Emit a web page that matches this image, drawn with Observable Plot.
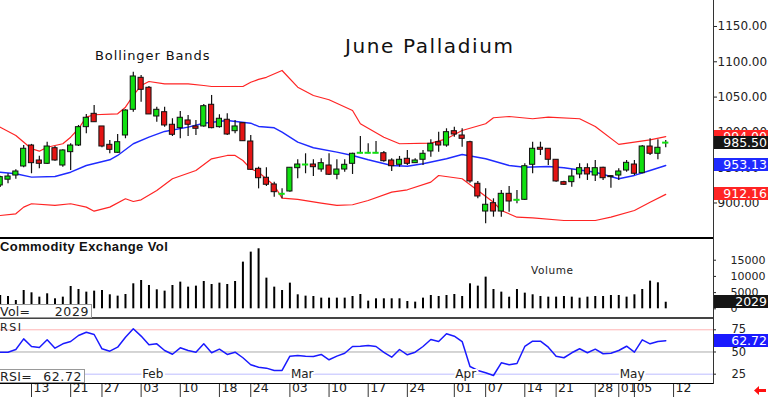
<!DOCTYPE html>
<html><head><meta charset="utf-8">
<script src="https://cdn.jsdelivr.net/npm/d3@7"></script>
<script src="https://cdn.jsdelivr.net/npm/@observablehq/plot@0.6"></script>
<style>
html,body{margin:0;padding:0;background:#fff;}
#chart{position:relative;width:768px;height:397px;overflow:hidden;font-family:"DejaVu Sans",sans-serif;color:#222;background:#fff;}
#chart svg{position:absolute;left:0;}
.lbl{position:absolute;white-space:nowrap;line-height:1;}
.box{position:absolute;color:#fff;font-size:12.5px;text-align:right;line-height:13px;height:13px;padding-right:1px;box-sizing:border-box;white-space:nowrap;}
.sep{position:absolute;}
.vbox{position:absolute;background:#fff;border:1px solid #999;border-left:none;box-sizing:border-box;font-size:12.5px;line-height:12px;white-space:nowrap;}
</style></head><body><div id="chart"></div><script>
// ---------- data (bar index 0 = Jan 13) ----------
const firstIndex = -4;
const opens = [924.8,933,938.9,951.7,
 981.4,960.2,955.5,977.6,953.1,972,981.4,1007.4,1026.3,1008.4,
 982.4,971.1,995.6,1032,1077.3,1063.2,1022.5,1028.6,1010.8,1006,
 1016.9,1008.4,1008.4,1039.1,1007.4,1017.9,1001.7,1013,987.1,948.4,
 935.7,926.2,913,916.3,949.3,954.5,954.5,947.4,953.1,940,
 947.4,955.5,971.1,971.1,971.1,970.5,960.2,954.1,962.6,956.4,
 961.2,973,986.1,981.4,1001.7,995.6,986.1,927.2,887.9,899.7,
 887.9,913,904.5,904.5,954.1,978.2,976.8,961.2,929.5,929.5,
 940.4,949.3,938.9,949.9,936.6,938.9,946,954.5,942.2,980,
 969.7,985.5];
const highs = [938,941.4,947,981.4,
 983,966.3,986.1,980,975.3,983.9,1009.8,1025.4,1038.1,1008.4,
 988.5,997,1032,1085.3,1080.6,1065,1035.7,1035.7,1019.3,1029.6,
 1023.9,1016.9,1039.5,1052.3,1025,1026.3,1016.9,1013,995.6,950.7,
 949.9,929.5,920.1,949.9,961.2,969.7,961.2,962.6,969.7,961.2,
 961.2,970.5,994.2,983.9,987.1,973,962.6,965.9,974.4,962.6,
 974.4,989.5,1000.3,1005.1,1007.4,1005.1,987.5,930.5,920.1,905.9,
 917.7,923.4,917.7,955.5,986.1,986.1,976.8,961.2,930.9,947,
 955.5,955.5,960.2,950.7,938.9,948.4,960.2,960.2,981.4,990.9,
 989.5,988.5];
const lows = [922,927.2,933.7,949.9,
 941.4,948.4,954.5,959.2,950.7,946,980,998,1014.4,978.2,
 969.7,970.5,991,1028.6,1042.8,1025.4,1014.4,1007.4,994.2,991,
 994.2,995.6,1007.4,1005.1,1006,995.6,998,987.5,946,920,
 923.4,908.2,905.9,915.3,934.3,941.4,937.5,943.6,938.9,932.9,
 943.6,940.4,969.7,969.7,969.7,957.8,944.6,950.7,953.1,956.4,
 953.1,964.9,972,979,993.2,979,928,905.9,870.5,879.9,
 879.9,887,898.9,903.5,941.4,967.3,953.1,929.5,924.8,922.4,
 934.3,931.9,930.5,931.9,920.9,931.9,943.6,938.9,941.4,967.3,
 961.2,978.2];
const closes = [936.6,937.5,944.6,976.8,
 956.4,955.5,980,960.2,974.4,981.4,1007.4,1020.7,1014.4,980,
 975.3,986.1,1031,1079.2,1060.3,1025.4,1032,1009.8,996.6,1020.7,
 1010.8,1005.1,1037.1,1006,1019.3,997,1008.4,987.5,947,935.1,
 925.8,915.3,913,949.9,954.5,954.5,950.7,956.4,940,947.4,
 954.1,969.7,971.1,971.1,971.1,959.2,952.1,961.2,955.5,960.2,
 969.7,983.9,981.4,1000.3,997,990.9,930.5,909.2,897.5,887.9,
 913,902.1,904.5,952.1,976.8,975.4,961.2,930.5,925.8,937.5,
 949.3,940.4,949.3,935.1,938,944.6,956.9,941.4,980,969.7,
 978.2,985.5];
const volumes = [4116,3807,2572,5660,
 4939,3601,4630,3087,3601,6894,5968,5145,5454,5660,
 4322,3910,4425,7717,8746,7203,5865,5454,7203,8232,
 6689,6997,8438,7512,7923,7512,8438,14406,17493,18522,
 9467,6689,5660,7923,4322,3910,3807,3293,3293,3293,
 3293,3807,4425,2367,3087,3087,3087,3087,2264,2058,
 3293,4116,3807,4116,4425,3807,7717,6997,9776,5968,
 5145,3601,5968,4836,4322,3807,3601,3601,3807,3601,
 3293,3601,3807,3807,4116,4116,3601,4322,5968,8541,
 8026,2029];
const rsiValues = [49.8,49.8,52.8,64.8,
 56.2,55.1,63.7,54.3,59.2,61.8,68.6,72.3,69.7,53.6,
 50.9,55.4,66.7,76.1,67.9,58.1,59.2,51.7,47.5,54.7,
 51.7,49.8,59.2,49.1,53.2,47.2,49.8,43.5,35.6,32.9,
 31.8,29.2,29.2,45.3,46.1,45.3,44.9,47.2,41.2,45.3,
 48.6,56.2,56.5,57.3,56.2,49.5,44.1,52.8,46.8,49.8,
 56.2,64.1,61.8,70.5,67.8,61.8,33.7,29.2,26.6,23.5,
 37.8,35.6,37.0,56.2,62.2,62.2,55.4,45.3,43.5,49.1,
 53.6,49.1,53.2,48.0,48.6,51.7,56.5,49.8,63.7,59.2,
 61.8,62.72];
const upperIdx = [-4,-2,0,1,2,4,5,6,7,8,11,12,13,14,15,17,20,22,23,27,28,29,30,32,34,36,38,41,42,45,47,51,53,55,58,59,61,64,66,70,72,75,77,79,81];
const upperVals = [1007.4,995.6,976.8,973.4,979,983.9,993.2,1005.1,1021.6,1025,1026.3,1035.7,1052.3,1066.4,1072.1,1068.8,1068.8,1066.4,1065,1065,1071,1075,1078,1087.7,1064,1052.3,1046.2,1031,1012.2,993.2,983.9,984.7,990.9,1002.7,1012.2,1020.7,1022.5,1019.3,1021.6,1019.3,1008.4,983,986.1,989.5,994];
const middleIdx = [-4,-2,0,3,5,7,10,11,13,15,17,20,22,25,28,29,31,32,34,36,39,41,43,46,48,50,53,55,58,61,63,66,68,72,75,77,79,81];
const middleVals = [943.6,941.4,936.6,937.5,943.6,953.1,961.2,967.3,983.9,993.2,1001.3,1007.4,1013,1016.9,1013,1008.4,1006.5,1000.3,986.1,978.2,972,967.3,961.2,953.1,952.1,955.5,962.6,968.7,962.6,953.1,950.7,951.7,949.9,943.6,934.3,939,946,953.13];
const lowerIdx = [-4,-2,-1,0,3,5,7,8,10,12,13,14,16,18,21,23,25,26,27,28,29,31,32,34,37,39,41,43,46,48,51,52,55,57,59,60,62,64,68,72,74,77,79,81];
const lowerVals = [882.3,884.7,894.1,898.9,896.5,898.9,894.1,888.4,894.1,906,902.1,904.5,917.7,934.3,946,962.6,967.3,967.3,960.2,948.4,943.6,924.8,906.8,905,899.7,896.5,897.5,903.5,915.3,918.7,929.5,938.9,934.3,917.7,901.1,889.4,879.9,879,875.2,875.2,879.9,889.4,901.1,912.16];
const tickIdx = [0,5,9,14,19,24,28,33,38,43,48,54,58,63,67,72,75,77,82];
const tickLabels = ["13","21","27","03","10","18","24","03","10","17","24","01","07","14","21","28","01","05","12"];
const monthIdx = [14,33,54,75];
const monthLabels = ["Feb","Mar","Apr","May"];
const priceTicks = [900,950,1000,1050,1100,1150];
const volTicks = [0,5000,10000,15000];
const rsiTicks = [25,50,75];
const priceFlags = [994.00, 985.50, 953.13, 912.16];
const lastVolume = 2029;
const lastRsi = 62.72;

// ---------- build ----------
const GREEN = "#10e010", RED = "#e41414", BAND = "#ff2424", MID = "#1f2bff";
const xDomain = [-3.96, 87.1];
const W = 768, MR = 55;
const chart = document.getElementById("chart");
const style = {background:"transparent", overflow:"visible", fontFamily:"DejaVu Sans, sans-serif", fontSize:"12px", color:"#222"};

const candles = opens.map((o,k)=>({i:firstIndex+k, o, h:highs[k], l:lows[k], c:closes[k]}));
const bodies = candles.filter(d=>d.o!==d.c);
const dojis = candles.filter(d=>d.o===d.c);
const pts = (idx, vals) => idx.map((i,k)=>({i, v:vals[k]}));
const vol = volumes.map((v,k)=>({i:firstIndex+k, v}));
const rsi = rsiValues.map((v,k)=>({i:firstIndex+k, v}));

function mount(svg, top){ svg.style.top = top+"px"; chart.appendChild(svg); return svg; }

const price = mount(Plot.plot({
  width:W, height:238, marginLeft:0, marginRight:MR, marginTop:0, marginBottom:0, style,
  x:{domain:xDomain, axis:null, label:null},
  y:{domain:[849.7,1186.8], axis:null, label:null},
  marks:[
    Plot.axisY(priceTicks, {anchor:"right", label:null, tickSize:3, tickPadding:1, tickFormat:d=>d.toFixed(2), fontSize:12}),
    Plot.line(pts(upperIdx,upperVals), {x:"i", y:"v", stroke:BAND, strokeWidth:1.2}),
    Plot.line(pts(lowerIdx,lowerVals), {x:"i", y:"v", stroke:BAND, strokeWidth:1.2}),
    Plot.line(pts(middleIdx,middleVals), {x:"i", y:"v", stroke:MID, strokeWidth:1.4}),
    Plot.ruleX(candles, {x:"i", y1:"l", y2:"h", stroke:"#111", strokeWidth:1.2}),
    Plot.rect(bodies, {x1:d=>d.i-0.33, x2:d=>d.i+0.33, y1:"o", y2:"c", fill:d=>d.c>d.o?GREEN:RED, stroke:"#111", strokeWidth:1}),
    Plot.ruleY(dojis, {y:"c", x1:d=>d.i-0.4, x2:d=>d.i+0.4, stroke:GREEN, strokeWidth:2})
  ]
}), 0);

const volume = mount(Plot.plot({
  width:W, height:81, marginLeft:0, marginRight:MR, marginTop:0, marginBottom:0, style,
  x:{domain:xDomain, axis:null, label:null},
  y:{domain:[-3300,21700], axis:null, label:null},
  marks:[
    Plot.axisY(volTicks, {anchor:"right", label:null, tickSize:2, tickPadding:15, tickFormat:d=>String(d), fontSize:11}),
    Plot.ruleX(vol, {x:"i", y1:0, y2:"v", stroke:"#000", strokeWidth:2})
  ]
}), 238);

const rsiPlot = mount(Plot.plot({
  width:W, height:78, marginLeft:0, marginRight:MR, marginTop:0, marginBottom:14, style,
  x:{domain:xDomain, axis:null, label:null},
  y:{domain:[14.5,86.6], axis:null, label:null},
  marks:[
    Plot.ruleY([75], {stroke:"#ffb4b4"}),
    Plot.ruleY([50], {stroke:"#aaaaaa"}),
    Plot.ruleY([25], {stroke:"#bcbcff"}),
    Plot.axisY(rsiTicks, {anchor:"right", label:null, tickSize:2, tickPadding:16, fontSize:11.5}),
    Plot.line(rsi, {x:"i", y:"v", stroke:"#1a1aff", strokeWidth:1.5}),
    Plot.axisX(tickIdx, {anchor:"bottom", label:null, tickSize:14, tickFormat:()=>"", stroke:"#333"}),
    Plot.text(tickIdx.map((i,k)=>({i, t:tickLabels[k]})), {x:"i", text:"t", frameAnchor:"bottom", dy:8.5, dx:2, textAnchor:"start", fontSize:12.5, fill:"#222"}),
    Plot.text(monthIdx.map((i,k)=>({i, t:monthLabels[k]})), {x:"i", text:"t", frameAnchor:"bottom", dy:-5.5, dx:1, textAnchor:"start", fontSize:12, fill:"#222", stroke:"white", strokeWidth:4})
  ]
}), 319);

// ---------- panel frames ----------
function line(l,t,w,h,c){ const d=document.createElement("div"); d.className="sep"; Object.assign(d.style,{left:l+"px",top:t+"px",width:w+"px",height:h+"px",background:c}); chart.appendChild(d); }
line(0,237,714,2,"#000");
line(0,317,714,2,"#444");
line(0,383,714,1,"#000");
line(713,0,1,384,"#333");

// ---------- text ----------
function label(txt, css){ const d=document.createElement("div"); d.className="lbl"; d.textContent=txt; Object.assign(d.style, css); chart.appendChild(d); return d; }
label("June Palladium", {left:"345px", top:"36px", fontSize:"20px", letterSpacing:"1.6px", color:"#111"});
label("Bollinger Bands", {left:"95px", top:"49px", fontSize:"13px", letterSpacing:"0.9px", color:"#111"});
label("Commodity Exchange Vol", {left:"0px", top:"240px", fontSize:"13px", letterSpacing:"0.4px", color:"#111", fontWeight:"bold", fontFamily:"'Liberation Sans', sans-serif"});
label("Volume", {left:"531px", top:"265px", fontSize:"10.5px", letterSpacing:"0.6px", color:"#222"});
label("RSI", {left:"0px", top:"322px", fontSize:"11px", letterSpacing:"1.5px", color:"#222"});

function flag(txt, yPix, bg){ const d=document.createElement("div"); d.className="box"; d.textContent=txt;
  Object.assign(d.style,{left:"714px", width:"54px", top:(yPix-6.5)+"px", background:bg}); chart.appendChild(d); }
const ys = price.scale("y");
const flagColors = [BAND, "#151515", MID, BAND];
priceFlags.forEach((v,k)=>flag(v.toFixed(2), ys.apply(v), flagColors[k]));
flag(String(lastVolume), 238 + volume.scale("y").apply(lastVolume), "#151515");
flag(lastRsi.toFixed(2), 319 + rsiPlot.scale("y").apply(lastRsi), "#1a1aff");

function vbox(name, val, top, width){ const d=document.createElement("div"); d.className="vbox";
  Object.assign(d.style,{left:"0px", top:top+"px", width:width+"px", height:"14px"});
  d.innerHTML = `<span style="position:absolute;left:0px;top:1px;letter-spacing:0.3px">${name}</span><span style="position:absolute;right:2px;top:1px;letter-spacing:0.6px">${val}</span>`;
  chart.appendChild(d); }
vbox("Vol=", String(lastVolume), 304, 92);
vbox("RSI=", lastRsi.toFixed(2), 369, 85);

// red arrow
const ns="http://www.w3.org/2000/svg";
const a=document.createElementNS(ns,"svg"); a.setAttribute("width","12"); a.setAttribute("height","9");
a.style.position="absolute"; a.style.left="754px"; a.style.top="386px";
const p=document.createElementNS(ns,"polygon"); p.setAttribute("points","0,4.5 5,0 5,3 12,3 12,6 5,6 5,9"); p.setAttribute("fill","#ff1010");
a.appendChild(p); chart.appendChild(a);
</script></body></html>
